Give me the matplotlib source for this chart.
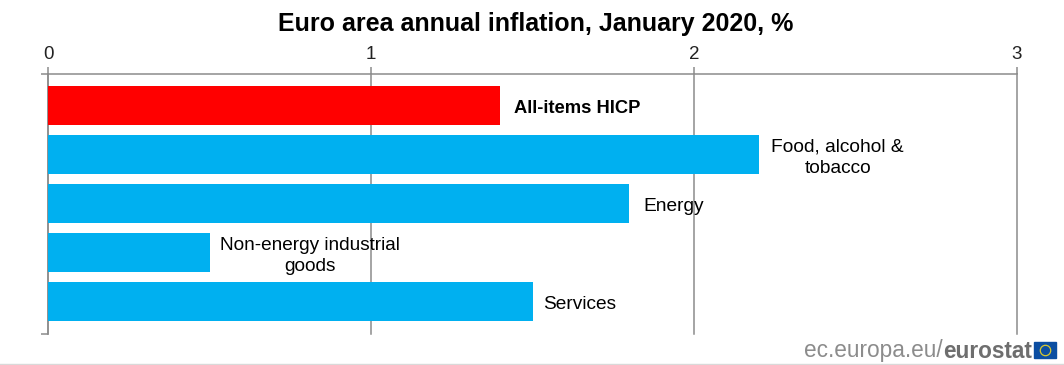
import matplotlib
matplotlib.use("Agg")
import matplotlib.pyplot as plt
from matplotlib.lines import Line2D
from matplotlib.patches import Rectangle

plt.rcParams['font.family'] = ['Liberation Sans', 'DejaVu Sans']

# values
categories = ['All-items HICP', 'Food, alcohol &\ntobacco', 'Energy',
              'Non-energy industrial\ngoods', 'Services']
values = [1.4, 2.2, 1.8, 0.5, 1.5]
bar_colors = ['#ff0000', '#00b0f0', '#00b0f0', '#00b0f0', '#00b0f0']
xticks = [0, 1, 2, 3]

GREY = '#8c8c8c'
W, H = 1064, 365
LW = 1.1
DY = 0.07  # labels sit a bit under the bar centre

fig = plt.figure(figsize=(W / 100, H / 100), dpi=100)
ax = fig.add_axes([48 / W, 1 - 334 / H, (1017 - 48) / W, (334 - 74) / H])

y = list(range(len(values)))
ax.barh(y, values, height=0.8, color=bar_colors, zorder=3)
ax.set_ylim(4.663, -0.643)
ax.set_xlim(0, 3)

# value axis sits on top
ax.xaxis.tick_top()
ax.set_xticks(xticks)
ax.set_xticklabels(xticks, fontsize=13.5, color='#222222')
ax.tick_params(axis='x', length=5, width=LW, pad=3, color=GREY)
ax.set_yticks([-0.643, 4.663])
ax.set_yticklabels([])
ax.tick_params(axis='y', direction='out', length=5, width=LW, color=GREY)
ax.grid(axis='x', color=GREY, linewidth=LW, zorder=1, clip_on=False)

for s in ['bottom', 'right']:
    ax.spines[s].set_visible(False)
ax.spines['left'].set_color(GREY)
ax.spines['left'].set_linewidth(LW)
ax.spines['top'].set_color(GREY)
ax.spines['top'].set_linewidth(LW)

# labels next to the bars, two line ones are centred
ax.text(values[0] + 0.042, 0 + DY, categories[0], ha='left', va='center',
        fontsize=13.2, fontweight='bold', zorder=4)
ax.text(values[1] + 0.245, 1 + DY, categories[1], ha='center', va='center',
        fontsize=13.8, linespacing=1.3, zorder=4)
ax.text(values[2] + 0.042, 2 + DY, categories[2], ha='left', va='center',
        fontsize=13.8, zorder=4)
ax.text(values[3] + 0.31, 3 + DY, categories[3], ha='center', va='center',
        fontsize=13.7, linespacing=1.3, zorder=4)
ax.text(values[4] + 0.033, 4 + DY, categories[4], ha='left', va='center',
        fontsize=13.8, zorder=4)

fig.text(536 / W, 1 - 24 / H, 'Euro area annual inflation, January 2020, %',
         ha='center', va='center', fontsize=18, fontweight='bold')

# eurostat mark, bottom right
fig.text(943 / W, 1 - 351 / H, 'ec.europa.eu/', ha='right', va='center',
         fontsize=16.3, color='#8c8c8c')
fig.text(943 / W, 1 - 351 / H, 'eurostat', ha='left', va='center',
         fontsize=16.3, color='#6e6e6e', fontweight='bold')
fig.add_artist(Rectangle((1034 / W, 1 - 358 / H), 22 / W, 16 / H,
                         transform=fig.transFigure, color='#0b4ea2'))
fig.add_artist(Line2D([1045 / W], [1 - 350 / H], marker='o', mfc='none',
                      mec='#d8c830', ms=7.5, mew=0.9,
                      transform=fig.transFigure))
fig.add_artist(Line2D([0, 1], [1 - 363.5 / H, 1 - 363.5 / H], color='#d9d9d9',
                      linewidth=1, transform=fig.transFigure))

fig.savefig('out.png', dpi=100)
